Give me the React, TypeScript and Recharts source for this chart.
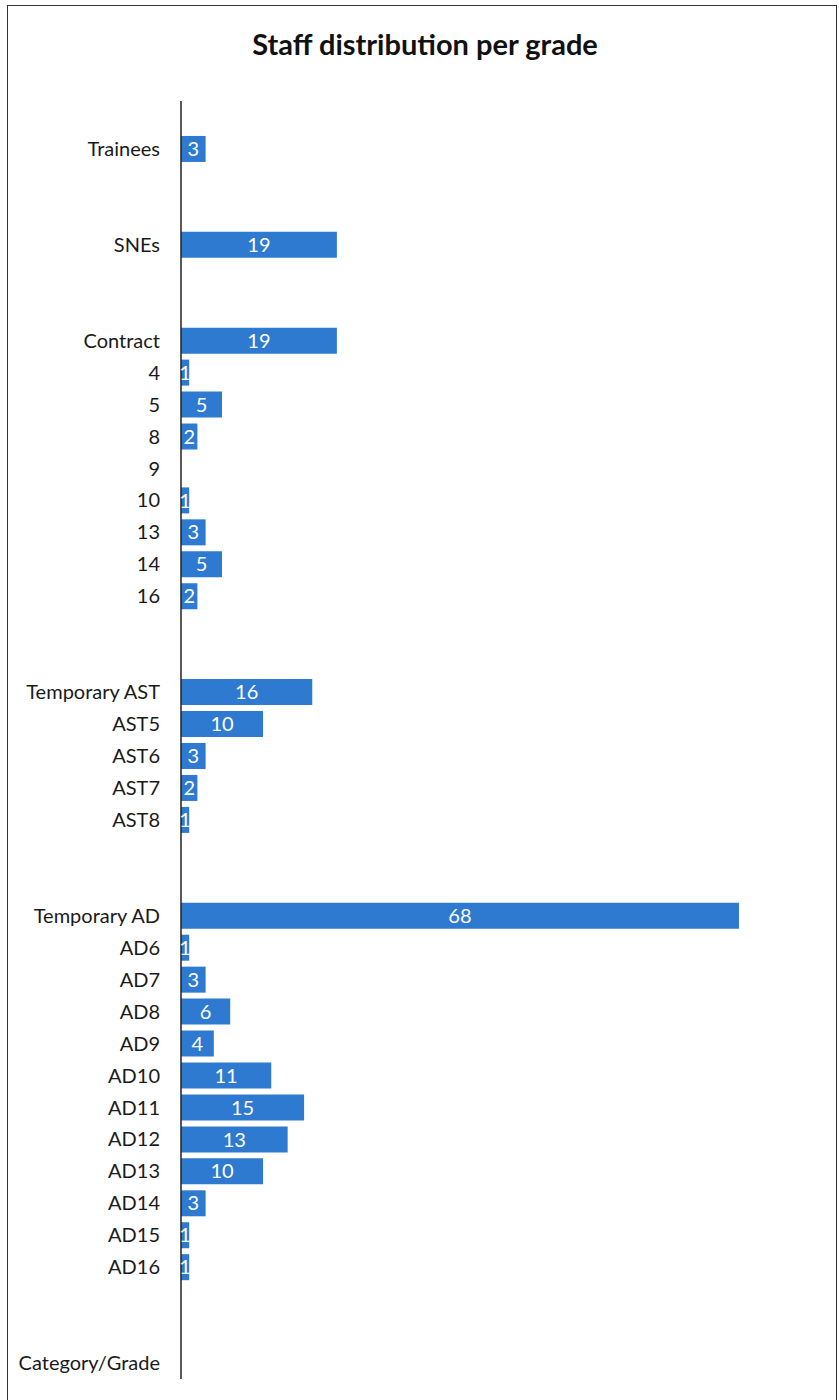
import React from 'react';
import { BarChart, Bar, XAxis, YAxis, LabelList } from 'recharts';

// rows top to bottom; '' = empty spacer row
const categories = [
  '', 'Trainees', '', '', 'SNEs', '', '',
  'Contract', '4', '5', '8', '9', '10', '13', '14', '16', '', '',
  'Temporary AST', 'AST5', 'AST6', 'AST7', 'AST8', '', '',
  'Temporary AD', 'AD6', 'AD7', 'AD8', 'AD9', 'AD10', 'AD11', 'AD12', 'AD13', 'AD14', 'AD15', 'AD16',
  '', '', 'Category/Grade',
];

const staff: (number | null)[] = [
  null, 3, null, null, 19, null, null,
  19, 1, 5, 2, 0, 1, 3, 5, 2, null, null,
  16, 10, 3, 2, 1, null, null,
  68, 1, 3, 6, 4, 11, 15, 13, 10, 3, 1, 1,
  null, null, null,
];

const data = categories.map((name, i) => ({ id: `row${i}`, name, staff: staff[i] }));

const FONT = 'Lato, "Noto Sans", sans-serif';
const BAR_BLUE = '#2e7ad1';

export default function App() {
  return (
    <div
      style={{
        position: 'absolute',
        left: 0,
        top: 0,
        width: 839,
        height: 1400,
        overflow: 'hidden',
        background: '#fff',
        fontFamily: FONT,
      }}
    >
      {/* scanned page frame */}
      <div
        style={{
          position: 'absolute',
          left: 7,
          top: 5,
          width: 828,
          height: 1420,
          border: '1.5px solid #333',
        }}
      />
      <div
        style={{
          position: 'absolute',
          left: 0,
          top: 26,
          width: 850,
          textAlign: 'center',
          fontSize: 29,
          fontWeight: 700,
          color: '#111',
        }}
      >
        Staff distribution per grade
      </div>
      <div style={{ position: 'absolute', left: 0, top: 0 }}>
        <BarChart
          width={839}
          height={1400}
          data={data}
          layout="vertical"
          margin={{ top: 101, right: 18, bottom: 21, left: 0 }}
          barSize={26}
        >
          <XAxis type="number" domain={[0, 78]} hide />
          <YAxis
            type="category"
            dataKey="id"
            width={181}
            tickLine={false}
            tickSize={0}
            tickMargin={21}
            interval={0}
            axisLine={{ stroke: '#222', strokeWidth: 1.5 }}
            tickFormatter={(v: string) => data.find((d) => d.id === v)?.name ?? ''}
            tick={{ fontSize: 20, fill: '#1a1a1a', fontFamily: FONT }}
          />
          <Bar dataKey="staff" fill={BAR_BLUE} isAnimationActive={false}>
            <LabelList
              dataKey="staff"
              position="center"
              fill="#fff"
              fontSize={20}
              fontFamily={FONT}
              formatter={(v: any) => (v ? v : '')}
            />
          </Bar>
        </BarChart>
      </div>
    </div>
  );
}
